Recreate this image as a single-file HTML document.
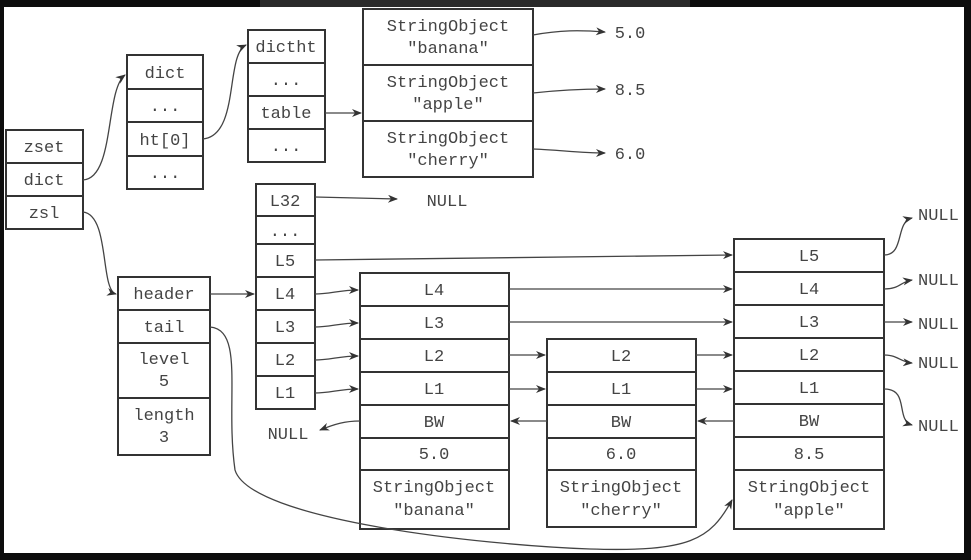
<!DOCTYPE html>
<html><head><style>
html,body{margin:0;padding:0;background:#111;}
svg{display:block}
text{font-family:"Liberation Mono",monospace;font-size:17px;fill:#444;}
</style></head><body>
<svg width="971" height="560" viewBox="0 0 971 560" xmlns="http://www.w3.org/2000/svg">
<defs><marker id="a" markerWidth="10" markerHeight="8" refX="9" refY="4" orient="auto" markerUnits="userSpaceOnUse"><path d="M0,0 L10,4 L0,8 L3,4z" fill="#333"/></marker></defs>
<rect x="0" y="0" width="971" height="560" fill="#0d0d0d"/>
<rect x="260" y="0" width="430" height="7" fill="#2a2a2a"/>
<rect x="4" y="7" width="960" height="546" fill="#fff"/>
<g fill="#fff" stroke="#333" stroke-width="2">
<rect x="6" y="130" width="77" height="99"/><line x1="6" y1="163" x2="83" y2="163"/><line x1="6" y1="196" x2="83" y2="196"/>
<rect x="127" y="55" width="76" height="134"/><line x1="127" y1="89" x2="203" y2="89"/><line x1="127" y1="122" x2="203" y2="122"/><line x1="127" y1="156" x2="203" y2="156"/>
<rect x="248" y="30" width="77" height="132"/><line x1="248" y1="63" x2="325" y2="63"/><line x1="248" y1="96" x2="325" y2="96"/><line x1="248" y1="129" x2="325" y2="129"/>
<rect x="363" y="9" width="170" height="168"/><line x1="363" y1="65" x2="533" y2="65"/><line x1="363" y1="121" x2="533" y2="121"/>
<rect x="256" y="184" width="59" height="225"/><line x1="256" y1="216" x2="315" y2="216"/><line x1="256" y1="244" x2="315" y2="244"/><line x1="256" y1="277" x2="315" y2="277"/><line x1="256" y1="310" x2="315" y2="310"/><line x1="256" y1="343" x2="315" y2="343"/><line x1="256" y1="376" x2="315" y2="376"/>
<rect x="118" y="277" width="92" height="178"/><line x1="118" y1="310" x2="210" y2="310"/><line x1="118" y1="343" x2="210" y2="343"/><line x1="118" y1="398" x2="210" y2="398"/>
<rect x="360" y="273" width="149" height="256"/><line x1="360" y1="306" x2="509" y2="306"/><line x1="360" y1="339" x2="509" y2="339"/><line x1="360" y1="372" x2="509" y2="372"/><line x1="360" y1="405" x2="509" y2="405"/><line x1="360" y1="438" x2="509" y2="438"/><line x1="360" y1="470" x2="509" y2="470"/>
<rect x="547" y="339" width="149" height="188"/><line x1="547" y1="372" x2="696" y2="372"/><line x1="547" y1="405" x2="696" y2="405"/><line x1="547" y1="438" x2="696" y2="438"/><line x1="547" y1="470" x2="696" y2="470"/>
<rect x="734" y="239" width="150" height="290"/><line x1="734" y1="272" x2="884" y2="272"/><line x1="734" y1="305" x2="884" y2="305"/><line x1="734" y1="338" x2="884" y2="338"/><line x1="734" y1="371" x2="884" y2="371"/><line x1="734" y1="404" x2="884" y2="404"/><line x1="734" y1="437" x2="884" y2="437"/><line x1="734" y1="470" x2="884" y2="470"/>
</g>
<g fill="none" stroke="#444" stroke-width="1.3" marker-end="url(#a)">
<path d="M83,180 C115,178 105,90 125,75"/>
<path d="M203,139 C240,135 225,55 246,45"/>
<path d="M325,113 L361,113"/>
<path d="M533,35 C560,30 580,30 605,32"/>
<path d="M533,93 C560,90 580,89 605,89"/>
<path d="M533,149 C560,150 580,153 605,153"/>
<path d="M315,197 L397,199"/>
<path d="M83,212 C110,215 100,290 116,294"/>
<path d="M210,294 L254,294"/>
<path d="M315,260 L732,255"/>
<path d="M315,294 C330,294 340,290 358,290"/>
<path d="M315,327 C330,327 340,323 358,323"/>
<path d="M315,360 C330,360 340,356 358,356"/>
<path d="M315,393 C330,393 340,389 358,389"/>
<path d="M509,289 L732,289"/>
<path d="M509,322 L732,322"/>
<path d="M509,355 L545,355"/>
<path d="M509,389 L545,389"/>
<path d="M696,355 L732,355"/>
<path d="M696,389 L732,389"/>
<path d="M547,421 L511,421"/>
<path d="M734,421 L698,421"/>
<path d="M360,421 C345,421 335,424 320,430"/>
<path d="M884,255 C905,255 895,222 912,218"/>
<path d="M884,289 C900,289 900,282 912,280"/>
<path d="M884,322 L912,322"/>
<path d="M884,355 C898,355 900,362 912,363"/>
<path d="M884,389 C910,389 895,420 912,425"/>
<path d="M210,327 C245,330 225,400 235,470 C250,520 480,545 590,549 C690,552 710,540 732,500"/>
</g>
<g text-anchor="middle">
<text x="44" y="152">zset</text><text x="44" y="185">dict</text><text x="44" y="218">zsl</text>
<text x="165" y="78">dict</text><text x="165" y="111">...</text><text x="165" y="145">ht[0]</text><text x="165" y="178">...</text>
<text x="286" y="52">dictht</text><text x="286" y="85">...</text><text x="286" y="118">table</text><text x="286" y="151">...</text>
<text x="448" y="31">StringObject</text><text x="448" y="53">"banana"</text>
<text x="448" y="87">StringObject</text><text x="448" y="109">"apple"</text>
<text x="448" y="143">StringObject</text><text x="448" y="165">"cherry"</text>
<text x="630" y="38">5.0</text><text x="630" y="95">8.5</text><text x="630" y="159">6.0</text>
<text x="447" y="206">NULL</text>
<text x="285" y="206">L32</text><text x="285" y="236">...</text><text x="285" y="266">L5</text><text x="285" y="299">L4</text><text x="285" y="332">L3</text><text x="285" y="365">L2</text><text x="285" y="398">L1</text>
<text x="164" y="299">header</text><text x="164" y="332">tail</text><text x="164" y="364">level</text><text x="164" y="386">5</text><text x="164" y="420">length</text><text x="164" y="442">3</text>
<text x="434" y="295">L4</text><text x="434" y="328">L3</text><text x="434" y="361">L2</text><text x="434" y="394">L1</text><text x="434" y="427">BW</text><text x="434" y="459">5.0</text><text x="434" y="492">StringObject</text><text x="434" y="515">"banana"</text>
<text x="621" y="361">L2</text><text x="621" y="394">L1</text><text x="621" y="427">BW</text><text x="621" y="459">6.0</text><text x="621" y="492">StringObject</text><text x="621" y="515">"cherry"</text>
<text x="809" y="261">L5</text><text x="809" y="294">L4</text><text x="809" y="327">L3</text><text x="809" y="360">L2</text><text x="809" y="393">L1</text><text x="809" y="426">BW</text><text x="809" y="459">8.5</text><text x="809" y="492">StringObject</text><text x="809" y="515">"apple"</text>
<text x="288" y="439">NULL</text>
</g>
<g>
<text x="918" y="220">NULL</text><text x="918" y="285">NULL</text><text x="918" y="329">NULL</text><text x="918" y="368">NULL</text><text x="918" y="431">NULL</text>
</g>
</svg>
</body></html>
